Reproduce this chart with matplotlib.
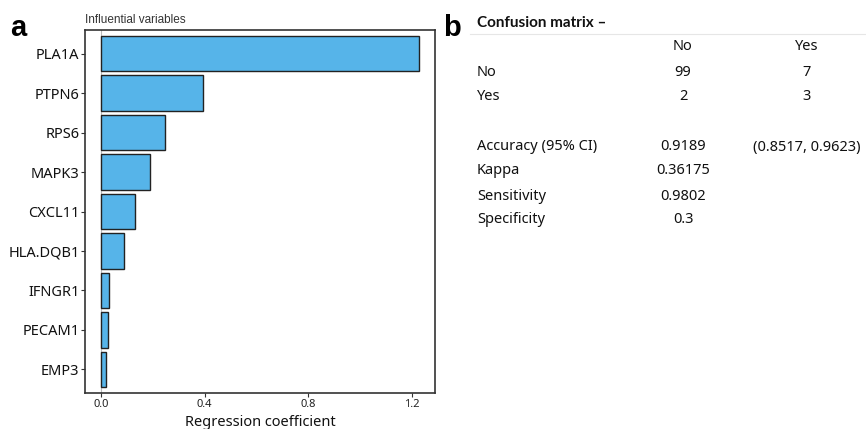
import matplotlib
matplotlib.use("Agg")
import matplotlib.pyplot as plt

# Panel a: lasso regression coefficients
genes = ["PLA1A", "PTPN6", "RPS6", "MAPK3", "CXCL11",
         "HLA.DQB1", "IFNGR1", "PECAM1", "EMP3"]
coefs = [1.227, 0.392, 0.247, 0.189, 0.133, 0.089, 0.030, 0.029, 0.020]
xticks = [0.0, 0.4, 0.8, 1.2]

# Panel b: confusion matrix and summary stats
col_labels = ["No", "Yes"]
row_labels = ["No", "Yes"]
matrix = [[99, 7], [2, 3]]
stat_names = ["Accuracy (95% CI)", "Kappa", "Sensitivity", "Specificity"]
stat_values = ["0.9189", "0.36175", "0.9802", "0.3"]
stat_extra = ["(0.8517, 0.9623)", "", "", ""]

plt.rcParams["font.family"] = ["Noto Sans", "DejaVu Sans"]

fig = plt.figure(figsize=(8.66, 4.29), dpi=100)
ax = fig.add_axes([0.0982, 0.0839, 0.4042, 0.846])

ypos = list(range(len(genes)))[::-1]
ax.barh(ypos, coefs, height=0.9, color="#56B4E9", edgecolor="#222222",
        linewidth=1.0, zorder=2)
ax.axvline(0, color="#bbbbbb", linewidth=0.8, zorder=1)

span = max(coefs)
ax.set_xlim(-0.05 * span, span * 1.05)
ax.set_ylim(-0.6, len(genes) - 0.4)
ax.set_yticks(ypos)
ax.set_yticklabels(genes, fontsize=10.5, color="#111111")
ax.set_xticks(xticks)
ax.set_xticklabels([f"{t:.1f}" for t in xticks], fontsize=8, color="#222222")
ax.tick_params(axis="both", length=3, width=0.8, color="#333333", pad=1)
ax.set_xlabel("Regression coefficient", fontsize=10.5, color="#111111",
              labelpad=4)
for sp in ax.spines.values():
    sp.set_color("#333333")
    sp.set_linewidth(1.2)

ax.text(0.0, 1.012, "Influential variables", transform=ax.transAxes,
        fontsize=8.5, color="#333333", ha="left", va="bottom",
        family="Liberation Sans")

fig.text(0.012, 0.935, "a", fontsize=21, fontweight="bold",
         family="Liberation Sans", va="center")
fig.text(0.512, 0.935, "b", fontsize=21, fontweight="bold",
         family="Liberation Sans", va="center")

# Table in panel b, figure pixel coordinates
W, H = 866, 429


def put(x, y, s, **kw):
    fig.text(x / W, 1 - y / H, s, va="center", color="#111111", **kw)


put(477, 23, "Confusion matrix \u2013", fontweight="bold", fontsize=11,
    family=["Lato", "DejaVu Sans"])
fig.add_artist(plt.Line2D([470 / W, 1.0], [1 - 34 / H, 1 - 34 / H],
                          color="#e6e6e6", linewidth=0.8))

col_x = [683, 807]
for cx, lab in zip(col_x, col_labels):
    put(cx, 47, lab, ha="center", fontsize=10.5)
for ry, lab, row in zip([72, 97], row_labels, matrix):
    put(477, ry, lab, fontsize=10.5)
    for cx, v in zip(col_x, row):
        put(cx, ry, str(v), ha="center", fontsize=10.5)

for ry, name, val, extra in zip([147, 171, 196, 220], stat_names,
                                stat_values, stat_extra):
    put(477, ry, name, fontsize=10.5)
    put(col_x[0], ry, val, ha="center", fontsize=10.5)
    if extra:
        put(col_x[1], ry, extra, ha="center", fontsize=10.5)

fig.savefig("out.png", dpi=100)
